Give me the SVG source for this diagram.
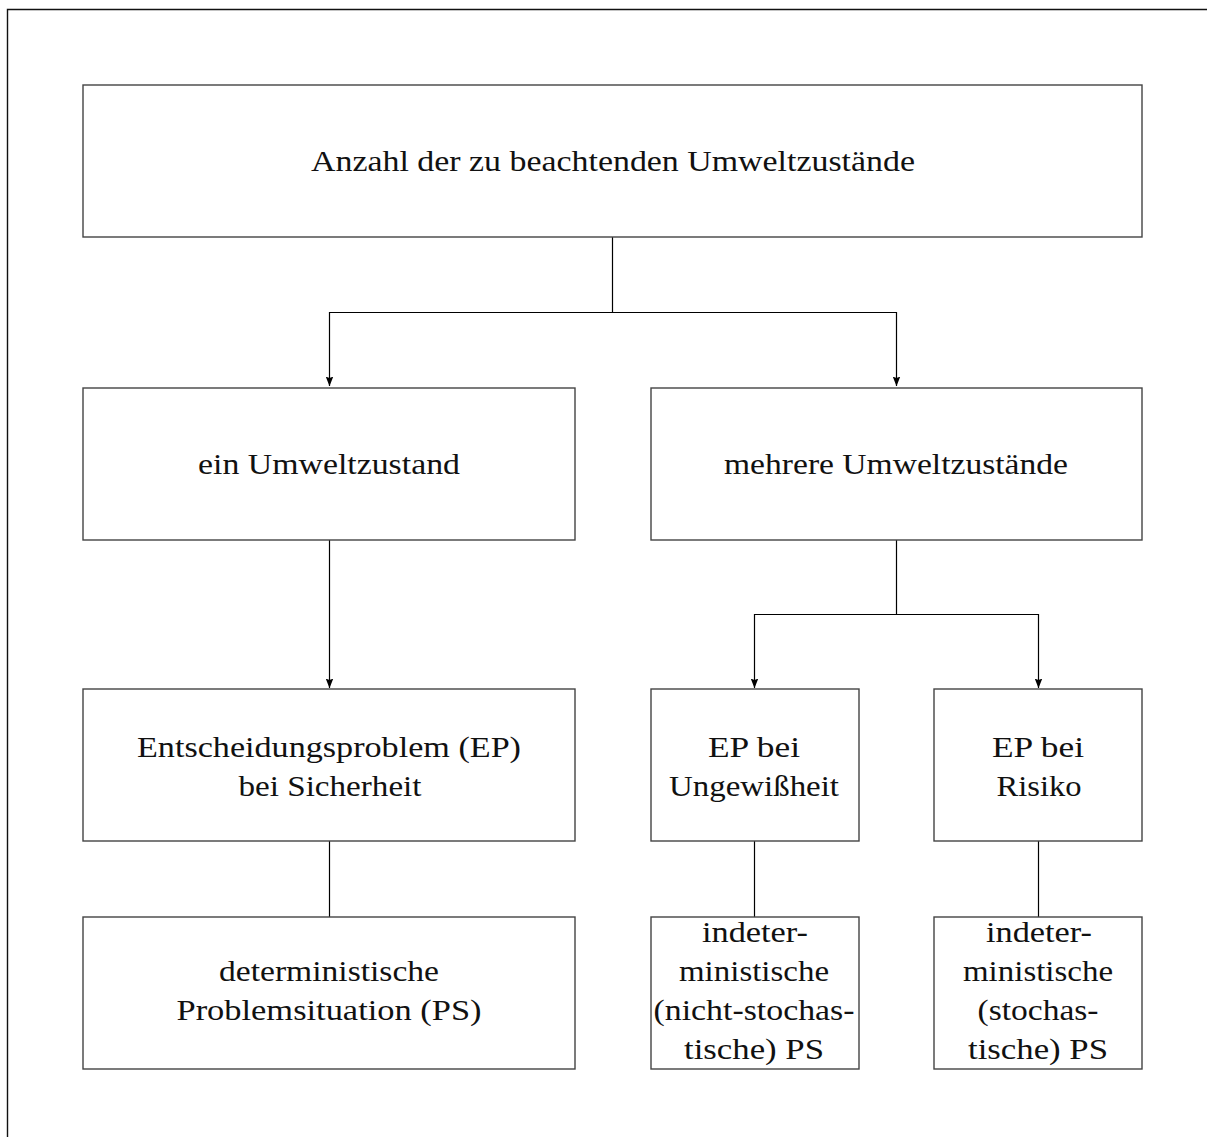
<svg xmlns="http://www.w3.org/2000/svg" width="1207" height="1137" viewBox="0 0 1207 1137">
  <style>
    .box { fill: #ffffff; stroke: #444444; stroke-width: 1.4; }
    .edge { fill: none; stroke: #000000; stroke-width: 1.2; }
    .frame { fill: none; stroke: #111111; stroke-width: 1.4; }
    text { font-family: "Liberation Serif", "Times New Roman", serif; font-size: 30px; fill: #111111; text-anchor: middle; }
  </style>
  <defs>
    <marker id="arrow" markerWidth="10" markerHeight="8" refX="9.5" refY="4" orient="auto" markerUnits="userSpaceOnUse">
      <path d="M0,0.2 L9.8,4 L0,7.8 L1.6,4 z" fill="#000000"/>
    </marker>
  </defs>

  <!-- page frame (top and left rule) -->
  <path class="frame" d="M7.5,1137 L7.5,9.5 L1207,9.5"/>

  <!-- connectors -->
  <g id="connectors">
    <path class="edge" d="M612.5,237 L612.5,312.5 L329.5,312.5 L329.5,386" marker-end="url(#arrow)"/>
    <path class="edge" d="M612.5,312.5 L896.5,312.5 L896.5,386" marker-end="url(#arrow)"/>
    <path class="edge" d="M329.5,540 L329.5,688" marker-end="url(#arrow)"/>
    <path class="edge" d="M896.5,540 L896.5,614.5 L754.5,614.5 L754.5,688" marker-end="url(#arrow)"/>
    <path class="edge" d="M896.5,614.5 L1038.5,614.5 L1038.5,688" marker-end="url(#arrow)"/>
    <path class="edge" d="M329.5,841 L329.5,917"/>
    <path class="edge" d="M754.5,841 L754.5,917"/>
    <path class="edge" d="M1038.5,841 L1038.5,917"/>
  </g>

  <g id="root">
    <rect class="box" x="83" y="85" width="1059" height="152"/>
    <text x="613" y="171" textLength="604" lengthAdjust="spacingAndGlyphs">Anzahl der zu beachtenden Umweltzustände</text>
  </g>

  <g id="one-state">
    <rect class="box" x="83" y="388" width="492" height="152"/>
    <text x="329" y="474" textLength="262" lengthAdjust="spacingAndGlyphs">ein Umweltzustand</text>
  </g>

  <g id="many-states">
    <rect class="box" x="651" y="388" width="491" height="152"/>
    <text x="896" y="474" textLength="344" lengthAdjust="spacingAndGlyphs">mehrere Umweltzustände</text>
  </g>

  <g id="ep-certainty">
    <rect class="box" x="83" y="689" width="492" height="152"/>
    <text x="329" y="757" textLength="384" lengthAdjust="spacingAndGlyphs">Entscheidungsproblem (EP)</text>
    <text x="330" y="796" textLength="183" lengthAdjust="spacingAndGlyphs">bei Sicherheit</text>
  </g>

  <g id="ep-uncertainty">
    <rect class="box" x="651" y="689" width="208" height="152"/>
    <text x="754" y="757" textLength="92" lengthAdjust="spacingAndGlyphs">EP bei</text>
    <text x="754" y="796" textLength="170" lengthAdjust="spacingAndGlyphs">Ungewißheit</text>
  </g>

  <g id="ep-risk">
    <rect class="box" x="934" y="689" width="208" height="152"/>
    <text x="1038" y="757" textLength="92" lengthAdjust="spacingAndGlyphs">EP bei</text>
    <text x="1039" y="796" textLength="85" lengthAdjust="spacingAndGlyphs">Risiko</text>
  </g>

  <g id="ps-deterministic">
    <rect class="box" x="83" y="917" width="492" height="152"/>
    <text x="329" y="981" textLength="220" lengthAdjust="spacingAndGlyphs">deterministische</text>
    <text x="329" y="1020" textLength="305" lengthAdjust="spacingAndGlyphs">Problemsituation (PS)</text>
  </g>

  <g id="ps-nonstochastic">
    <rect class="box" x="651" y="917" width="208" height="152"/>
    <text x="755" y="942" textLength="106" lengthAdjust="spacingAndGlyphs">indeter-</text>
    <text x="754" y="981" textLength="150" lengthAdjust="spacingAndGlyphs">ministische</text>
    <text x="754" y="1020" textLength="201" lengthAdjust="spacingAndGlyphs">(nicht-stochas-</text>
    <text x="754" y="1059" textLength="140" lengthAdjust="spacingAndGlyphs">tische) PS</text>
  </g>

  <g id="ps-stochastic">
    <rect class="box" x="934" y="917" width="208" height="152"/>
    <text x="1039" y="942" textLength="106" lengthAdjust="spacingAndGlyphs">indeter-</text>
    <text x="1038" y="981" textLength="150" lengthAdjust="spacingAndGlyphs">ministische</text>
    <text x="1038" y="1020" textLength="121" lengthAdjust="spacingAndGlyphs">(stochas-</text>
    <text x="1038" y="1059" textLength="140" lengthAdjust="spacingAndGlyphs">tische) PS</text>
  </g>
</svg>
